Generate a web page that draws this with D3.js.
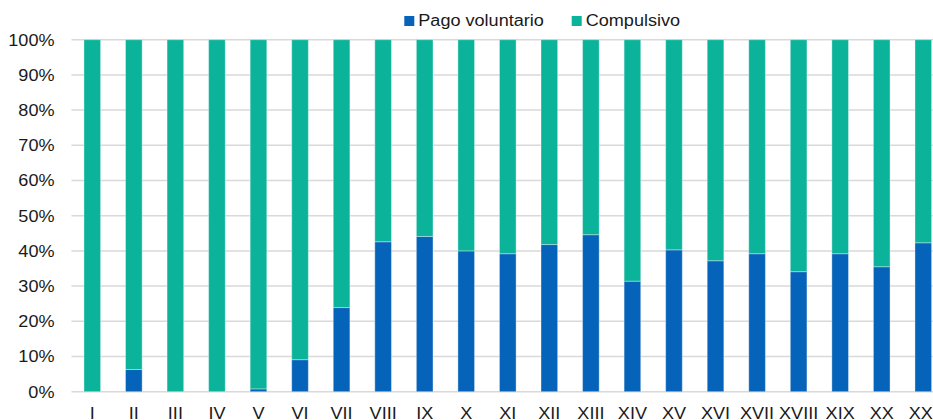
<!DOCTYPE html>
<html>
<head>
<meta charset="utf-8">
<script src="https://cdn.jsdelivr.net/npm/d3@7"></script>
<style>
html,body{margin:0;padding:0;background:#fff;overflow:hidden;}
svg{display:block;}
text{font-family:"Liberation Sans",Arial,sans-serif;fill:#1a1a1a;}
</style>
</head>
<body>
<svg id="chart" width="933" height="420"></svg>
<script>
const categories = ["I","II","III","IV","V","VI","VII","VIII","IX","X","XI","XII","XIII","XIV","XV","XVI","XVII","XVIII","XIX","XX","XXI"];
const pagoVoluntario = [0, 6.3, 0, 0, 0.8, 9.1, 23.9, 42.6, 44.1, 40.0, 39.2, 41.8, 44.6, 31.4, 40.3, 37.2, 39.2, 34.1, 39.2, 35.5, 42.3];
const compulsivo = pagoVoluntario.map(v => 100 - v);
const seriesNames = ["Pago voluntario", "Compulsivo"];
const seriesColors = ["#0563B9", "#0BB39B"];
const yTicks = [0, 10, 20, 30, 40, 50, 60, 70, 80, 90, 100];

(function () {
const svg = d3.select("#chart");
const plotLeft = 71.5, step = 41.55;
const plotTop = 39.7, plotBottom = 391.7;
const sx = 1.13;

const x = d3.scaleBand().domain(categories)
  .range([plotLeft, plotLeft + step * categories.length])
  .paddingInner(0.6).paddingOuter(0.3);
const y = d3.scaleLinear().domain([0, 100]).range([plotBottom, plotTop]);

// gridlines
svg.append("g").selectAll("line").data(yTicks).join("line")
  .attr("x1", plotLeft).attr("x2", 933)
  .attr("y1", d => y(d)).attr("y2", d => y(d))
  .attr("stroke", "#d9d9d9").attr("stroke-width", 1.5);

// y labels
svg.append("g").selectAll("text").data(yTicks).join("text")
  .attr("transform", d => `translate(54.5,${y(d) + 5.8}) scale(${sx},1)`)
  .attr("text-anchor", "end").attr("font-size", 16)
  .text(d => d + "%");

// stacked bars
const rows = categories.map((c, i) => ({cat: c, pago: pagoVoluntario[i], comp: compulsivo[i]}));
const stack = d3.stack().keys(["pago", "comp"])(rows);
svg.append("g").selectAll("g").data(stack).join("g")
  .attr("fill", (d, i) => seriesColors[i])
  .selectAll("rect").data(d => d).join("rect")
  .attr("x", d => x(d.data.cat))
  .attr("width", x.bandwidth())
  .attr("y", d => y(d[1]))
  .attr("height", d => Math.max(0, y(d[0]) - y(d[1])))
  .attr("stroke", "rgba(255,255,255,0.35)").attr("stroke-width", 1);

// x labels
svg.append("g").selectAll("text").data(categories).join("text")
  .attr("transform", d => `translate(${x(d) + x.bandwidth() / 2},418.5) scale(${sx},1)`)
  .attr("text-anchor", "middle").attr("font-size", 16)
  .text(d => d);

// legend
const legendX = [404.3, 571.7];
const lg = svg.append("g");
seriesNames.forEach((n, i) => {
  lg.append("rect").attr("x", legendX[i]).attr("y", 16).attr("width", 10).attr("height", 10)
    .attr("fill", seriesColors[i]);
  lg.append("text")
    .attr("transform", `translate(${legendX[i] + 14},26) scale(${sx},1)`)
    .attr("font-size", 16).text(n);
});
})();
</script>
</body>
</html>
